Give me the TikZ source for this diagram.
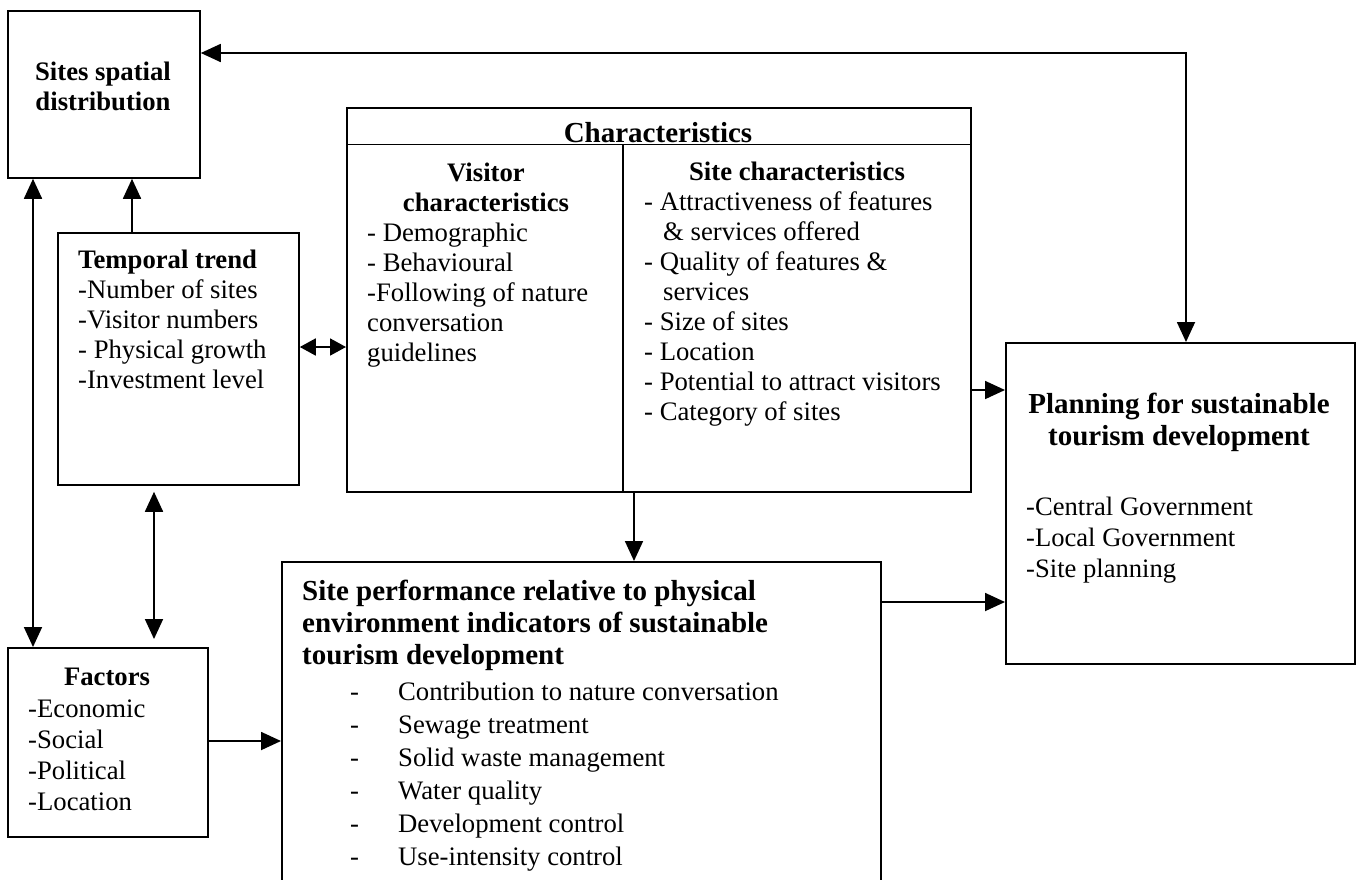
\documentclass[tikz,border=0pt]{standalone}
\usepackage{fontspec}
\setmainfont{Liberation Serif}
\usetikzlibrary{arrows.meta}
\begin{document}
\begin{tikzpicture}[x=1pt,y=-1pt,
  box/.style={draw, line width=1.8pt, rectangle, inner sep=0pt, anchor=north west},
  txt/.style={inner sep=0pt, align=left, font=\fontsize{26.7}{30}\selectfont},
  hd/.style={inner sep=0pt, align=center, font=\fontsize{26.7}{30}\selectfont\bfseries},
  bighd/.style={inner sep=0pt, font=\fontsize{29}{32}\selectfont\bfseries},
  tip/.tip={Triangle[length=20pt,width=18pt]},
  smalltip/.tip={Triangle[length=16pt,width=17pt]},
  link/.style={line width=1.8pt, -tip},
  both/.style={line width=1.8pt, tip-tip},
]
\clip (0,0) rectangle (1362,879);
\fill[white] (0,0) rectangle (1362,879);

% ---- boxes ----
\node[box, minimum width=192pt, minimum height=167pt] (sites) at (7,10) {};
\node[box, minimum width=241pt, minimum height=252pt] (temporal) at (57,232) {};
\node[box, minimum width=624pt, minimum height=384pt] (charbox) at (346,107) {};
\node[box, minimum width=200pt, minimum height=189pt] (factors) at (7,647) {};
\node[box, minimum width=599pt, minimum height=360pt] (perf) at (281,561) {};
\node[box, minimum width=349pt, minimum height=321pt] (plan) at (1005,342) {};

% header rule and column divider of the characteristics box
\coordinate (hdrow) at (0,144.5);
\coordinate (divcol) at (623,0);
\draw[line width=1.8pt] (charbox.west |- hdrow) -- (charbox.east |- hdrow);
\draw[line width=1.8pt] (divcol |- hdrow) -- (divcol |- charbox.south);

% ---- texts (multi-line nodes are placed by the baseline of their last line) ----
\node[hd, anchor=base] (sitesT) at (103,110) {Sites spatial\\distribution};

\node[txt, anchor=base west] (tempT) at (78,388)
  {\textbf{Temporal trend}\\-Number of sites\\-Visitor numbers\\- Physical growth\\-Investment level};

\node[bighd, anchor=base] (charT) at (658,142) {Characteristics};

\node[hd, anchor=base] (visT) at (486,211) {Visitor\\characteristics};
\node[txt, anchor=base west] (visL) at (367,361)
  {- Demographic\\- Behavioural\\-Following of nature\\conversation\\guidelines};

\node[hd, anchor=base] (siteT) at (797,180) {Site characteristics};
\node[txt, anchor=base west] (siteL) at (644,420)
  {- Attractiveness of features\\\hspace*{19pt}\& services offered\\- Quality of features \&\\\hspace*{19pt}services\\- Size of sites\\- Location\\- Potential to attract visitors\\- Category of sites};

\node[hd, anchor=base] (factT) at (107,685) {Factors};
\node[txt, anchor=base west, font=\fontsize{26.7}{31}\selectfont] (factL) at (28,810)
  {-Economic\\-Social\\-Political\\-Location};

\node[bighd, align=left, anchor=base west] (perfT) at (302,664)
  {Site performance relative to physical\\environment indicators of sustainable\\tourism development};
\node[txt, anchor=base west, font=\fontsize{26.7}{33}\selectfont] (perfL) at (350,865)
  {\makebox[48pt][l]{-}Contribution to nature conversation\\
   \makebox[48pt][l]{-}Sewage treatment\\
   \makebox[48pt][l]{-}Solid waste management\\
   \makebox[48pt][l]{-}Water quality\\
   \makebox[48pt][l]{-}Development control\\
   \makebox[48pt][l]{-}Use-intensity control};

\node[bighd, align=center, anchor=base] (planT) at (1179,445)
  {Planning for sustainable\\tourism development};
\node[txt, anchor=base west, font=\fontsize{26.6}{31}\selectfont] (planL) at (1026,577)
  {-Central Government\\-Local Government\\-Site planning};

% ---- connectors ----
\coordinate (topbend) at (1186,53);
\coordinate (colA) at (132,0);
\coordinate (colB) at (33,0);
\coordinate (colC) at (154,0);
\coordinate (colD) at (634,0);
\coordinate (rowA) at (0,347);
\coordinate (rowB) at (0,390);
\coordinate (rowC) at (0,741);
\coordinate (rowD) at (0,602);

\draw[both] (topbend |- plan.north) -- (topbend) -- (sites.east |- topbend);
\draw[link] (temporal.north -| colA) -- (sites.south -| colA);
\draw[both] (sites.south -| colB) -- (factors.north -| colB);
\draw[both, shorten <=6pt, shorten >=8pt] (temporal.south -| colC) -- (factors.north -| colC);
\draw[line width=1.8pt, smalltip-smalltip] (temporal.east |- rowA) -- (charbox.west |- rowA);
\draw[link] (charbox.east |- rowB) -- (plan.west |- rowB);
\draw[link] (charbox.south -| colD) -- (perf.north -| colD);
\draw[link] (factors.east |- rowC) -- (perf.west |- rowC);
\draw[link] (perf.east |- rowD) -- (plan.west |- rowD);
\end{tikzpicture}
\end{document}
